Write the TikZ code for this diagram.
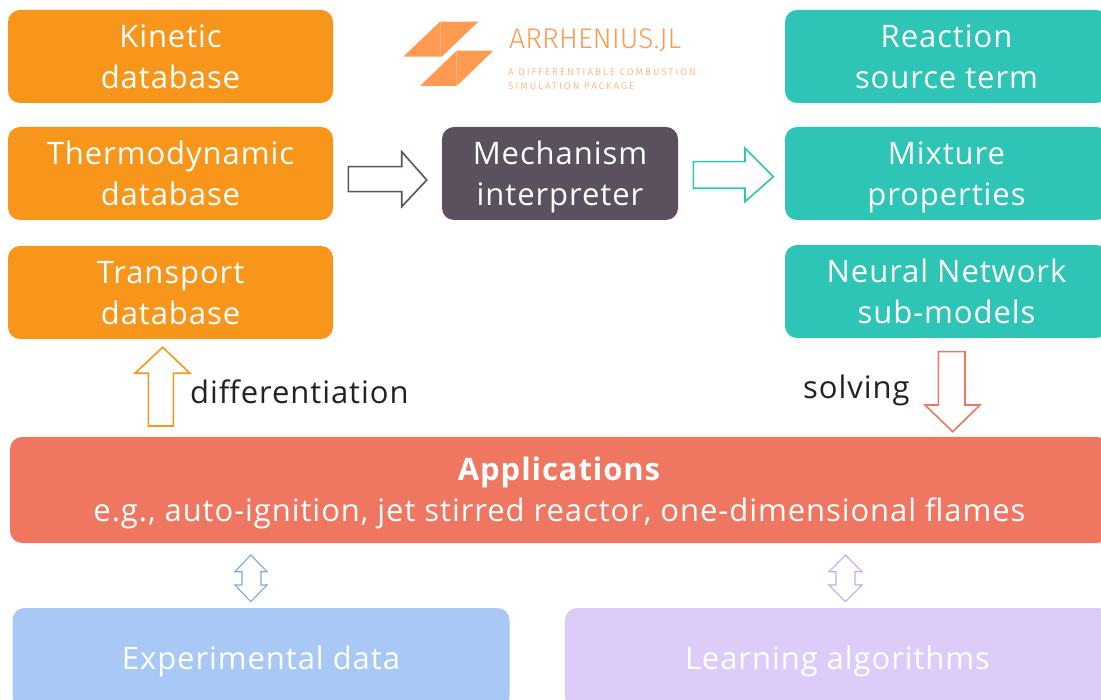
\documentclass[tikz,border=0pt]{standalone}
\usepackage{fontspec}
\setmainfont{Open Sans}[LetterSpace=3]
\newfontfamily\logofont{Fira Sans Light}
\newcommand\stt{\rule[-6pt]{0pt}{36pt}}
\definecolor{orng}{HTML}{F8961C}
\definecolor{teal}{HTML}{2EC4B6}
\definecolor{mech}{HTML}{5B515E}
\definecolor{appl}{HTML}{EF7761}
\definecolor{expc}{HTML}{A8C8F5}
\definecolor{lrnc}{HTML}{DDCCF9}
\definecolor{logoc}{HTML}{FF9A52}
\definecolor{blua}{HTML}{7BA6EA}
\definecolor{purp}{HTML}{C7A8F4}
\definecolor{txt}{HTML}{222222}
\begin{document}
\begin{tikzpicture}[x=1pt,y=-1pt,
  box/.style={rounded corners=12pt, align=center, text=white, inner sep=0pt,
    font=\fontsize{31}{41}\selectfont},
  obox/.style={box, fill=orng, minimum width=325pt, minimum height=93pt},
  tbox/.style={box, fill=teal, minimum width=323pt, minimum height=93pt},
  barrow/.style={line width=1.6pt, fill=white, line join=miter},
  lbl/.style={text=txt, font=\fontsize{31}{36}\selectfont, inner sep=0pt},
  logo/.style={anchor=base west, inner sep=0pt, text=logoc}
]
\useasboundingbox (0,0) rectangle (1101,700);
\clip (0,0) rectangle (1101,700);
% left orange boxes
\node[obox] (kin) at (170.5,56.5) {\stt Kinetic\\\stt database};
\node[obox] (thermo) at (170.5,173.5) {\stt Thermodynamic\\\stt database};
\node[obox] (trans) at (170.5,292.5) {\stt Transport\\\stt database};
% right teal boxes
\node[tbox] (reac) at (946.5,56.5) {\stt Reaction\\\stt source term};
\node[tbox] (mix) at (946.5,173.5) {\stt Mixture\\\stt properties};
\node[tbox] (nn) at (946.5,291.5) {\stt Neural Network\\\stt sub-models};
% mechanism
\node[box, fill=mech, minimum width=236pt, minimum height=93pt] (mech) at (560,173.5) {\stt Mechanism\\\stt interpreter};
% applications
\node[box, fill=appl, minimum width=1099pt, minimum height=106pt] (app) at (559.5,490)
  {\stt\textbf{Applications}\\\stt e.g., auto-ignition, jet stirred reactor, one-dimensional flames};
% bottom boxes
\node[box, fill=expc, minimum width=497pt, minimum height=100pt] (exp) at (261,658) {\stt Experimental data};
\node[box, fill=lrnc, minimum width=545pt, minimum height=100pt] (lrn) at (837.5,658) {\stt Learning algorithms};
% logo
\fill[logoc] (403.3,56.7) -- (440,21.7) -- (478.3,21.7) -- (441.7,56.7) -- cycle;
\fill[logoc] (420,86) -- (456.7,50.7) -- (493.3,50.7) -- (456.7,86) -- cycle;
\draw[white, opacity=0.25, line width=0.6pt] (440,21.7) -- (440,55) (456.7,51) -- (456.7,86);
\node[logo, font=\logofont\fontsize{28.5}{28.5}\selectfont] (logot) at (509,49) {ARRHENIUS.JL};
\node[logo, font=\logofont\fontsize{9.8}{14}\selectfont] (logos1) at (508,76)
  {\addfontfeature{LetterSpace=21}A DIFFERENTIABLE COMBUSTION};
\node[logo, font=\logofont\fontsize{9.8}{14}\selectfont] (logos2) at (508,90)
  {\addfontfeature{LetterSpace=21}SIMULATION PACKAGE};
% block arrows
\draw[barrow, draw=mech] (348.3,166.7) -- (401.7,166.7) -- (401.7,151.7) -- (426.7,180) -- (401.7,206.7) -- (401.7,191.7) -- (348.3,191.7) -- cycle;
\draw[barrow, draw=teal] (693.3,161.7) -- (745,161.7) -- (745,148.3) -- (773.3,176.7) -- (745,201.7) -- (745,188.3) -- (693.3,188.3) -- cycle;
\draw[barrow, draw=orng] (148.3,426) -- (148.3,373.3) -- (135,373.3) -- (162.7,347.3) -- (190,373.3) -- (173.3,373.3) -- (173.3,426) -- cycle;
\draw[barrow, draw=appl] (938.3,351.7) -- (965,351.7) -- (965,405) -- (980,405) -- (952.7,431.7) -- (925,405) -- (938.3,405) -- cycle;
\draw[barrow, draw=blua, line width=1.1pt] (250.7,555) -- (267,571.7) -- (261,571.7) -- (261,585) -- (267,585) -- (250.7,601.7) -- (235,585) -- (242,585) -- (242,571.7) -- (235,571.7) -- cycle;
\draw[barrow, draw=purp, line width=1.1pt] (845.5,555) -- (862,571.7) -- (855,571.7) -- (855,585) -- (862,585) -- (845.5,601.7) -- (829,585) -- (836,585) -- (836,571.7) -- (829,571.7) -- cycle;
% labels
\node[lbl, anchor=west] (diff) at (190,392) {differentiation};
\node[lbl, anchor=west] (solv) at (803,390) {solving};
\end{tikzpicture}
\end{document}
